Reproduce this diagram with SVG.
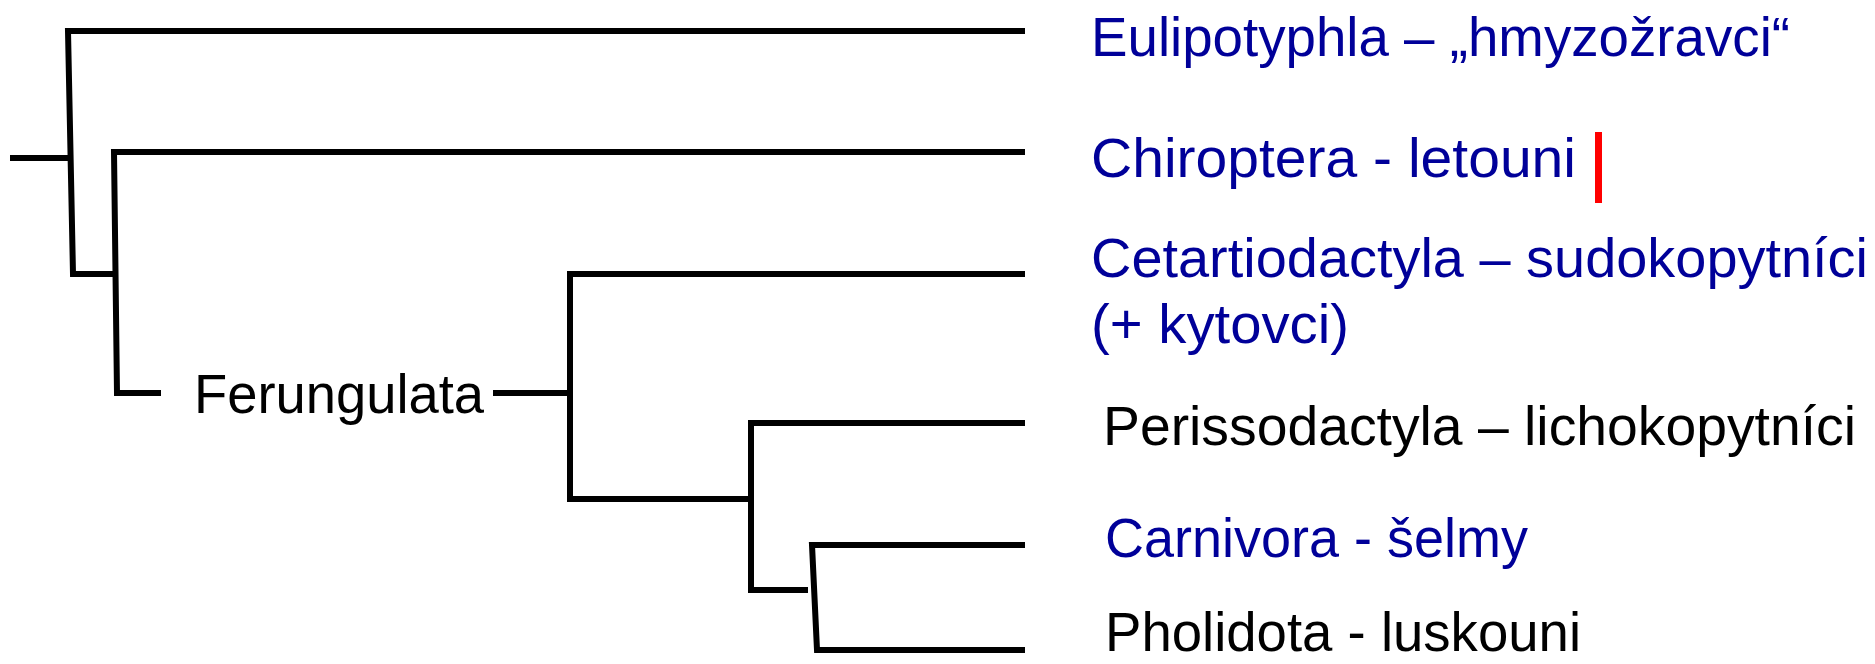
<svg xmlns="http://www.w3.org/2000/svg" width="1875" height="664" viewBox="0 0 1875 664">
<style>
.ln{fill:none;stroke:#000;stroke-width:6;stroke-linejoin:miter;stroke-linecap:butt}
.t{font-family:"Comic Sans MS","Liberation Sans","DejaVu Sans",sans-serif;font-size:56px}
.b{fill:#000099}
.k{fill:#000}
</style>
<rect width="1875" height="664" fill="#fff"/>
<g id="connectors">
<path class="ln" d="M10 158 H70"/>
<path class="ln" d="M1025 31 H68 L73 274 H114"/>
<path class="ln" d="M1025 152 H114 L117 393 H161"/>
<path class="ln" d="M493 393 H570"/>
<path class="ln" d="M1025 274 H570 V499 H751"/>
<path class="ln" d="M1025 423 H751 V590 H808"/>
<path class="ln" d="M1025 545 H812 L817 650 H1025"/>
</g>
<g id="node-ferungulata"><text class="t k" x="194" y="413" textLength="290" lengthAdjust="spacingAndGlyphs">Ferungulata</text></g>
<g id="node-eulipotyphla"><text class="t b" x="1091" y="56" textLength="699" lengthAdjust="spacingAndGlyphs">Eulipotyphla – „hmyzožravci“</text></g>
<g id="node-chiroptera"><text class="t b" x="1091" y="177" textLength="485" lengthAdjust="spacingAndGlyphs">Chiroptera - letouni</text>
<rect x="1595" y="132" width="7" height="71" fill="#ff0000"/></g>
<g id="node-cetartiodactyla"><text class="t b" x="1091" y="277" textLength="777" lengthAdjust="spacingAndGlyphs">Cetartiodactyla – sudokopytníci</text>
<text class="t b" x="1091" y="343" textLength="258" lengthAdjust="spacingAndGlyphs">(+ kytovci)</text></g>
<g id="node-perissodactyla"><text class="t k" x="1103" y="445" textLength="753" lengthAdjust="spacingAndGlyphs">Perissodactyla – lichokopytníci</text></g>
<g id="node-carnivora"><text class="t b" x="1105" y="557" textLength="423" lengthAdjust="spacingAndGlyphs">Carnivora - šelmy</text></g>
<g id="node-pholidota"><text class="t k" x="1105" y="651" textLength="476" lengthAdjust="spacingAndGlyphs">Pholidota - luskouni</text></g>
</svg>
